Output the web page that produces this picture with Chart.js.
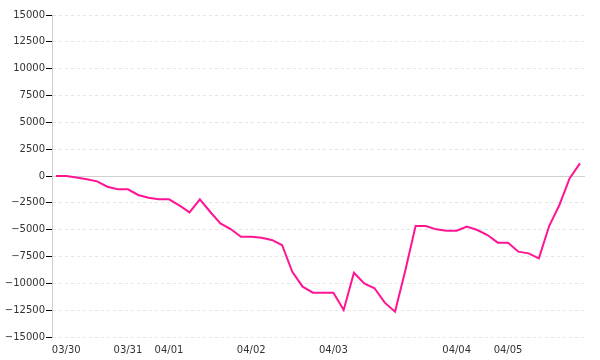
<!DOCTYPE html>
<html>
<head>
<meta charset="utf-8">
<script src="https://cdn.jsdelivr.net/npm/chart.js@4/dist/chart.umd.min.js"></script>
<style>
  html, body { margin: 0; padding: 0; background: #fff; }
  #wrap { width: 600px; height: 360px; }
</style>
</head>
<body>
<div id="wrap"><canvas id="LineChart" width="600" height="360"></canvas></div>
<script>
// one label per point, only the first point of each day gets a date
const labels = [
	"", "03/30", "", "", "", "", "", "03/31", "", "", "",
	"04/01", "", "", "", "", "", "", "",
	"04/02", "", "", "", "", "", "", "",
	"04/03", "", "", "", "", "", "", "", "", "", "", "",
	"04/04", "", "", "", "",
	"04/05", "", "", "", "", "", "", "",
]
const values = [
	0, 0, -140, -310, -500, -1000, -1240, -1240, -1770, -2020, -2170,
	-2170, -2730, -3380, -2170, -3330, -4410, -4940, -5660,
	-5660, -5750, -5960, -6430, -8920, -10310, -10870, -10870,
	-10870, -12480, -9010, -10000, -10460, -11800, -12640, -8800, -4660, -4660, -4970, -5100,
	-5100, -4720, -5030, -5500, -6210,
	-6210, -7050, -7210, -7670, -4660, -2700, -210, 1180,
]
const yTicks = [-15000, -12500, -10000, -7500, -5000, -2500, 0, 2500, 5000, 7500, 10000, 12500, 15000]

const font = { family: "DejaVu Sans", size: 10 }

const ctx = document.getElementById("LineChart").getContext("2d")

new Chart(ctx, {
	type: "line",
	data: {
		datasets: [
			{
				data: values.map((v, i) => ({ x: i, y: v })),
				borderColor: "#ff1493",
				borderWidth: 2,
				pointRadius: 0,
				fill: false,
				tension: 0,
			},
		],
	},
	options: {
		responsive: false,
		animation: false,
		layout: { padding: { top: 15, right: 15, left: 0, bottom: 0 } },
		plugins: { legend: { display: false }, tooltip: { enabled: false } },
		scales: {
			x: {
				type: "linear",
				min: -0.39,
				max: 51.49,
				afterBuildTicks: (scale) => {
					scale.ticks = labels
						.map((l, i) => (l ? { value: i } : null))
						.filter((t) => t)
				},
				afterFit: (scale) => {
					scale.height = 23
				},
				grid: { display: false, drawTicks: false },
				border: { display: false },
				ticks: {
					autoSkip: false,
					maxRotation: 0,
					padding: 7,
					color: "#333",
					font: font,
					callback: (v) => labels[v],
				},
			},
			y: {
				min: -15000,
				max: 15000,
				afterBuildTicks: (scale) => {
					scale.ticks = yTicks.map((v) => ({ value: v }))
				},
				afterFit: (scale) => {
					scale.width = 52
				},
				grid: {
					color: (c) => (c.tick && c.tick.value === 0 ? "#d0d0d0" : "#e4e4e4"),
					tickColor: "rgb(0, 0, 0)",
					tickLength: 6,
					tickWidth: 1,
					tickBorderDash: [6, 0],
				},
				border: {
					display: true,
					color: "rgb(208, 208, 208)",
					width: 1,
					dash: (c) => (c.tick && c.tick.value !== 0 ? [3, 3] : []),
				},
				ticks: {
					padding: 1,
					color: "#333",
					font: font,
					callback: (v) => (v < 0 ? "\u2212" + Math.abs(v) : String(v)),
				},
			},
		},
	},
})
</script>
</body>
</html>
